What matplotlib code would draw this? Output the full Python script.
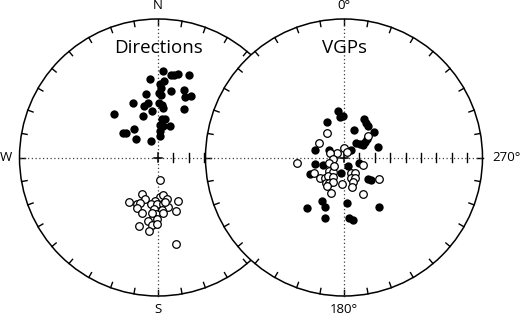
import numpy as np
import matplotlib
matplotlib.use("Agg")
import matplotlib.pyplot as plt
from matplotlib.patches import Circle

plt.rcParams['font.family'] = ['Open Sans', 'DejaVu Sans']

# projected positions, in units of the net radius (east, north)
dir_normal_x = [0.034, -0.061, 0.096, 0.118, 0.147, 0.226, 0.040, 0.025, 0.004, 0.022,
                0.092, 0.188, 0.196, 0.238, -0.087, -0.177, -0.101, -0.074, 0.006, 0.027,
                0.035, 0.190, -0.041, -0.105, -0.316, 0.027, 0.051, 0.018, 0.038, 0.088,
                -0.170, -0.251, -0.231, 0.018, 0.014, -0.161, -0.051, 0.014]
dir_normal_y = [0.622, 0.568, 0.594, 0.599, 0.603, 0.594, 0.552, 0.505, 0.469, 0.448,
                0.482, 0.485, 0.437, 0.442, 0.456, 0.394, 0.373, 0.390, 0.395, 0.378,
                0.361, 0.350, 0.337, 0.303, 0.316, 0.276, 0.277, 0.238, 0.226, 0.224,
                0.208, 0.175, 0.175, 0.188, 0.152, 0.135, 0.116, 0.531]

dir_reverse_x = [0.017, -0.112, -0.207, -0.094, -0.149, -0.130, -0.154, -0.119, 0.014, 0.034,
                 0.063, -0.024, -0.053, -0.005, 0.038, 0.074, 0.147, 0.130, -0.027, 0.027,
                 -0.014, -0.038, -0.005, -0.070, -0.135, -0.045, -0.009, -0.065, 0.130, 0.038,
                 -0.043, 0.051]
dir_reverse_y = [-0.166, -0.266, -0.323, -0.297, -0.336, -0.326, -0.368, -0.404, -0.285, -0.273,
                 -0.297, -0.316, -0.334, -0.334, -0.338, -0.357, -0.316, -0.388, -0.370, -0.381,
                 -0.406, -0.435, -0.442, -0.461, -0.491, -0.490, -0.477, -0.531, -0.623, -0.399,
                 -0.401, -0.321]

vgp_normal_x = [-0.045, -0.029, -0.007, -0.123, 0.146, 0.161, 0.173, 0.074, 0.220, 0.087,
                0.112, 0.135, 0.152, 0.166, 0.242, -0.212, -0.106, 0.053, -0.209, -0.149,
                -0.245, -0.022, 0.031, 0.110, 0.175, 0.195, -0.161, -0.137, -0.267, 0.019,
                -0.137, 0.251, 0.038, 0.063]
vgp_normal_y = [0.336, 0.295, 0.300, 0.253, 0.277, 0.251, 0.231, 0.196, 0.186, 0.108,
                0.094, 0.090, 0.112, 0.134, 0.078, 0.056, 0.054, 0.054, -0.047, -0.054,
                -0.119, -0.110, -0.061, -0.042, -0.157, -0.162, -0.312, -0.355, -0.367, -0.326,
                -0.435, -0.360, -0.439, -0.451]

vgp_reverse_x = [-0.121, -0.179, 0.175, 0.000, -0.053, -0.101, 0.019, -0.341, -0.082, -0.106,
                 -0.217, -0.173, -0.137, -0.106, -0.077, -0.113, -0.082, -0.130, -0.106, -0.082,
                 -0.121, -0.096, -0.017, 0.048, 0.079, 0.051, 0.079, 0.067, 0.056, 0.135,
                 0.139, 0.255, -0.072]
vgp_reverse_y = [0.179, 0.107, 0.155, 0.069, 0.032, 0.032, 0.042, -0.042, -0.013, -0.042,
                 -0.110, -0.146, -0.150, -0.095, -0.103, -0.134, -0.143, -0.186, -0.182, -0.175,
                 -0.206, -0.258, -0.191, -0.114, -0.114, -0.150, -0.150, -0.175, -0.211, -0.264,
                 -0.054, -0.157, -0.061]

R = 138.5  # net radius in pixels
W, H = 520, 316
left_c = (158, 157.5)
right_c = (344, 157.5)


def draw_net(ax, cx, z, title, labels):
    ax.add_patch(Circle((cx, 0), 1, facecolor="white", edgecolor="black", lw=1.1, zorder=z))
    # perimeter ticks every 10 degrees
    for a in np.radians(np.arange(0, 360, 10)):
        ax.plot([cx + np.sin(a), cx + 0.96 * np.sin(a)], [np.cos(a), 0.96 * np.cos(a)],
                color="black", lw=1.0, zorder=z + 0.1)
    # dotted cross
    ax.plot([cx - 1, cx + 1], [0, 0], color="0.25", lw=0.9, ls=(0, (1, 2)), zorder=z + 0.1)
    ax.plot([cx, cx], [-1, 1], color="0.25", lw=0.9, ls=(0, (1, 2)), zorder=z + 0.1)
    # center cross
    ax.plot([cx - 0.03, cx + 0.03], [0, 0], color="black", lw=1.1, zorder=z + 0.2)
    ax.plot([cx, cx], [-0.03, 0.03], color="black", lw=1.1, zorder=z + 0.2)
    # inclination ticks along east radius
    for k in range(1, 9):
        ax.plot([cx + k / 9, cx + k / 9], [-0.033, 0.033], color="black", lw=1.0, zorder=z + 0.2)
    ax.text(cx + 0.005, 0.79, title, ha="center", va="center", fontsize=13.5, zorder=z + 0.3)
    ax.text(cx, 1.094, labels[0], ha="center", va="center", fontsize=9.5, zorder=z + 0.3)
    ax.text(cx, -1.094, labels[1], ha="center", va="center", fontsize=9.5, zorder=z + 0.3)
    return z + 0.4


fig = plt.figure(figsize=(W / 100, H / 100), dpi=100)
ax = fig.add_axes([0, 0, 1, 1])
ax.set_xlim(-left_c[0] / R, (W - left_c[0]) / R)
ax.set_ylim(-(H - left_c[1]) / R, left_c[1] / R)
ax.axis("off")

off = (right_c[0] - left_c[0]) / R

z = draw_net(ax, 0, 1, "Directions", ("N", "S"))
ax.text(-1.097, 0, "W", ha="center", va="center", fontsize=9.5)
ax.scatter(dir_normal_x, dir_normal_y, s=36, c="black", lw=0, zorder=z)
ax.scatter(dir_reverse_x, dir_reverse_y, s=30, facecolors="white", edgecolors="black",
           lw=0.9, zorder=z)

z = draw_net(ax, off, 3, "VGPs", ("0°", "180°"))
ax.text(off + 1.17, 0, "270°", ha="center", va="center", fontsize=9.5)
ax.scatter(np.array(vgp_normal_x) + off, vgp_normal_y, s=36, c="black", lw=0, zorder=z)
ax.scatter(np.array(vgp_reverse_x) + off, vgp_reverse_y, s=30, facecolors="white",
           edgecolors="black", lw=0.9, zorder=z)

fig.savefig("out.png", dpi=100)
